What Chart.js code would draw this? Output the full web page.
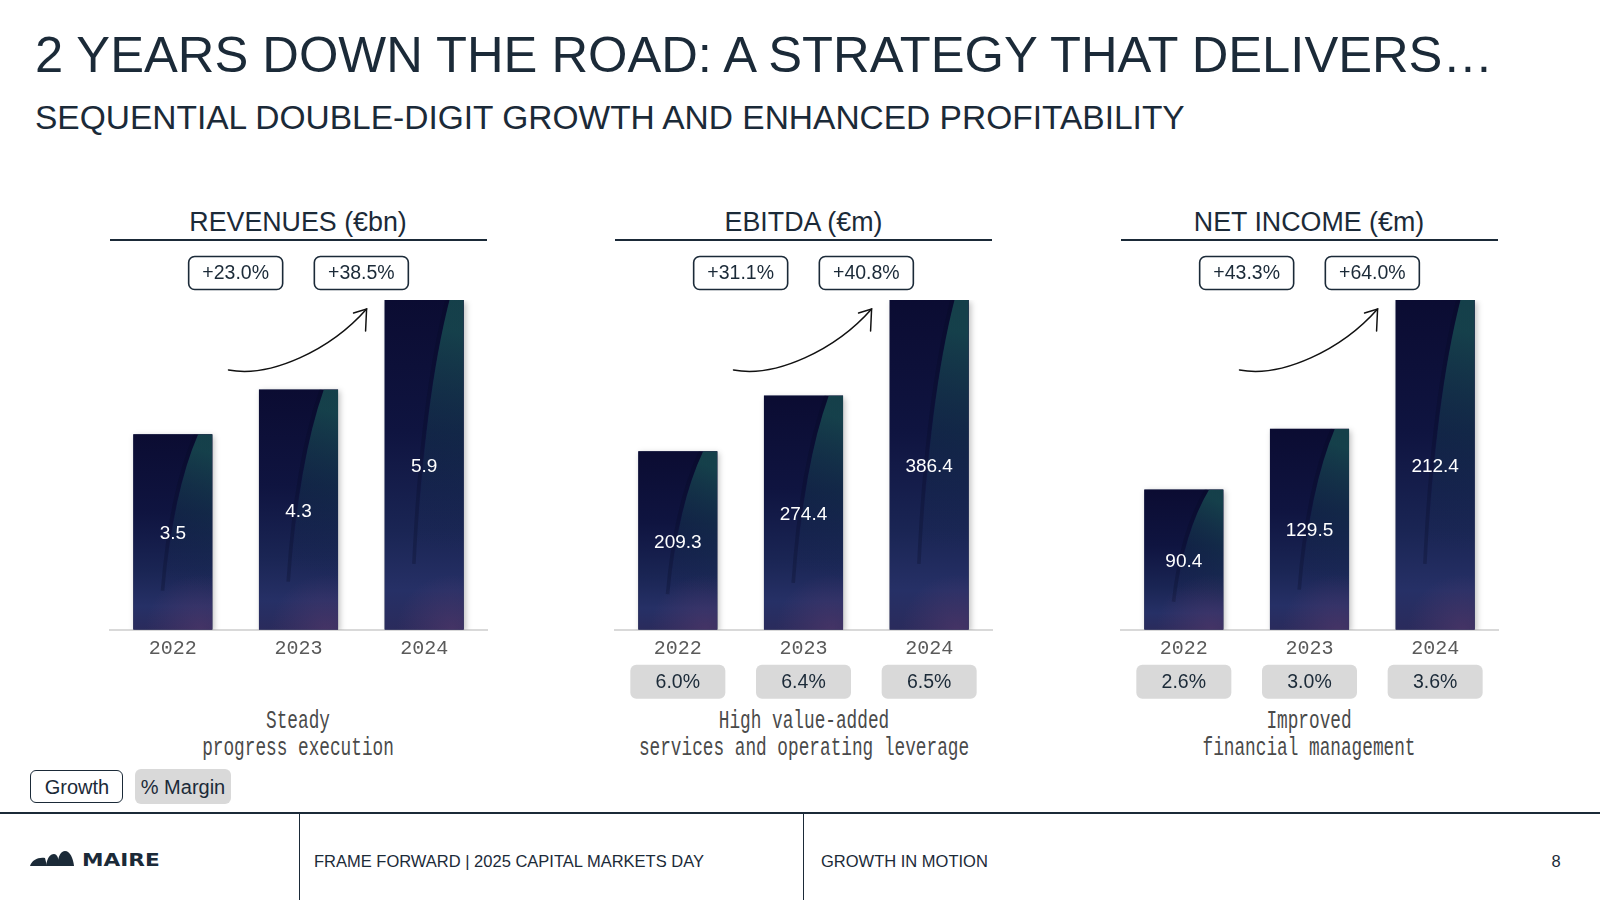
<!DOCTYPE html>
<html><head><meta charset="utf-8">
<script src="https://cdn.jsdelivr.net/npm/chart.js@4.4.1/dist/chart.umd.min.js"></script>
<style>
html,body{margin:0;padding:0;background:#fff;}
body{width:1600px;height:900px;position:relative;overflow:hidden;font-family:"Liberation Sans",Arial,sans-serif;color:#1b2a38;}
.t{position:absolute;white-space:nowrap;}
.ln{position:absolute;background:#1b2a38;}
canvas{position:absolute;}
</style></head><body>
<script>
// ---------- data ----------
const categories = ['2022', '2023', '2024'];
const revenues = [3.5, 4.3, 5.9];
const ebitda = [209.3, 274.4, 386.4];
const netIncome = [90.4, 129.5, 212.4];
const revenueGrowth = ['+23.0%', '+38.5%'];
const ebitdaGrowth = ['+31.1%', '+40.8%'];
const netIncomeGrowth = ['+43.3%', '+64.0%'];
const ebitdaMargin = ['6.0%', '6.4%', '6.5%'];
const netIncomeMargin = ['2.6%', '3.0%', '3.6%'];
const panelTitles = ['REVENUES (€bn)', 'EBITDA (€m)', 'NET INCOME (€m)'];
const captionLine1 = ['Steady', 'High value-added', 'Improved'];
const captionLine2 = ['progress execution', 'services and operating leverage', 'financial management'];
const legendLabels = ['Growth', '% Margin'];

const INK = '#1b2a38';

// ---------- text helper ----------
function addText(txt, x, baseline, o) {
  const size = o.size, fam = o.family || '"Liberation Sans"';
  const k = o.k || 0.8465;
  const d = document.createElement('div');
  d.className = 't';
  d.textContent = txt;
  d.style.fontFamily = fam;
  d.style.fontSize = size + 'px';
  d.style.lineHeight = size + 'px';
  d.style.color = o.color || INK;
  if (o.weight) d.style.fontWeight = o.weight;
  if (o.ls) d.style.letterSpacing = o.ls + 'px';
  d.style.top = (baseline - k * size) + 'px';
  d.style.left = x + 'px';
  const sx = o.scaleX || 1;
  if (o.align === 'center') { d.style.transformOrigin = '0 0'; d.style.transform = 'scaleX(' + sx + ') translateX(-50%)'; }
  else if (o.align === 'right') { d.style.transform = 'translateX(-100%)'; }
  else if (sx !== 1) { d.style.transform = 'scaleX(' + sx + ')'; d.style.transformOrigin = '0 0'; }
  document.body.appendChild(d);
  return d;
}
function addLine(x, y, w, h, color) {
  const d = document.createElement('div');
  d.className = 'ln';
  d.style.left = x + 'px'; d.style.top = y + 'px'; d.style.width = w + 'px'; d.style.height = h + 'px';
  if (color) d.style.background = color;
  document.body.appendChild(d);
}

// ---------- slide header ----------
addText('2 YEARS DOWN THE ROAD: A STRATEGY THAT DELIVERS…', 35, 73, {size: 50.7});
addText('SEQUENTIAL DOUBLE-DIGIT GROWTH AND ENHANCED PROFITABILITY', 35, 129.5, {size: 33.5});

// ---------- bar painting ----------
function paintBar(ctx, b) {
  const p = b.getProps(['x', 'y', 'base', 'width'], true);
  const W = p.width, L = p.x - W / 2, T = Math.min(p.y, p.base), H = Math.abs(p.base - p.y);
  ctx.save();
  ctx.beginPath(); ctx.rect(L, T, W, H); ctx.clip();
  const g = ctx.createLinearGradient(0, T, 0, T + H);
  g.addColorStop(0, '#0b0c32'); g.addColorStop(0.4, '#0f1440'); g.addColorStop(0.7, '#1a2554');
  g.addColorStop(0.88, '#263066'); g.addColorStop(1, '#2a2b5c');
  ctx.fillStyle = g; ctx.fillRect(L, T, W, H);
  ctx.beginPath();
  ctx.moveTo(L + 0.82 * W, T);
  ctx.quadraticCurveTo(L + 0.5 * W, T + 0.3 * H, L + 0.4 * W, T + 0.8 * H);
  ctx.lineTo(L + W, T + 0.8 * H); ctx.lineTo(L + W, T); ctx.closePath();
  const g2 = ctx.createLinearGradient(L + W, T + 0.1 * H, L + 0.45 * W, T + 0.75 * H);
  g2.addColorStop(0, 'rgba(26,90,86,0.66)'); g2.addColorStop(0.45, 'rgba(24,72,84,0.36)'); g2.addColorStop(1, 'rgba(20,50,80,0)');
  ctx.fillStyle = g2; ctx.fill();
  ctx.beginPath();
  ctx.moveTo(L + 0.79 * W, T);
  ctx.quadraticCurveTo(L + 0.47 * W, T + 0.3 * H, L + 0.37 * W, T + 0.8 * H);
  ctx.strokeStyle = 'rgba(8,10,35,0.28)'; ctx.lineWidth = W * 0.045; ctx.stroke();
  const r = ctx.createRadialGradient(L + 0.85 * W, T + H, 0, L + 0.85 * W, T + H, W * 0.7);
  r.addColorStop(0, 'rgba(95,60,110,0.5)'); r.addColorStop(1, 'rgba(95,60,110,0)');
  ctx.fillStyle = r; ctx.fillRect(L, T, W, H);
  ctx.restore();
}
const barArt = {
  id: 'barArt',
  beforeDatasetsDraw(chart) {
    const c = chart.ctx; c.save();
    c.shadowColor = 'rgba(0,0,0,0.25)'; c.shadowBlur = 6; c.shadowOffsetX = 2; c.shadowOffsetY = 2;
  },
  afterDatasetsDraw(chart) {
    chart.ctx.restore();
    chart.getDatasetMeta(0).data.forEach(b => paintBar(chart.ctx, b));
  }
};
function box(ctx, cx, cy, w, h, fill, stroke, text) {
  ctx.save();
  ctx.beginPath(); ctx.roundRect(cx - w / 2, cy - h / 2, w, h, 6);
  ctx.fillStyle = fill; ctx.fill();
  if (stroke) { ctx.lineWidth = 1.6; ctx.strokeStyle = stroke; ctx.stroke(); }
  ctx.fillStyle = INK; ctx.font = '19.5px "Liberation Sans"';
  ctx.textAlign = 'center'; ctx.textBaseline = 'middle';
  ctx.fillText(text, cx, cy + 1);
  ctx.restore();
}
const panelDeco = {
  id: 'panelDeco',
  afterDraw(chart, args, opts) {
    const ctx = chart.ctx, area = chart.chartArea;
    const bars = chart.getDatasetMeta(0).data;
    const vals = chart.data.datasets[0].data;
    // value labels
    ctx.save();
    ctx.fillStyle = '#ffffff'; ctx.font = '19px "Liberation Sans"';
    ctx.textAlign = 'center'; ctx.textBaseline = 'middle';
    bars.forEach((b, i) => ctx.fillText(vals[i].toFixed(1), b.x, (b.y + b.base) / 2 + 2));
    ctx.restore();
    // growth boxes
    (opts.growth || []).forEach((g, i) => {
      const cx = (bars[i].x + bars[i + 1].x) / 2;
      box(ctx, cx, area.top - 27, 94, 33, '#ffffff', INK, g);
    });
    // arrow
    const b1 = bars[1], b2 = bars[2];
    const sx = b1.x - 70, sy = area.top + 70;
    const tx = b2.x - b2.width / 2 - 18, ty = area.top + 9;
    ctx.save();
    ctx.strokeStyle = '#111'; ctx.lineWidth = 1.5; ctx.lineCap = 'round';
    ctx.beginPath(); ctx.moveTo(sx, sy);
    ctx.bezierCurveTo(sx + 42, sy + 8, sx + 102, sy - 20, tx, ty);
    ctx.stroke();
    ctx.beginPath();
    ctx.moveTo(tx - 13, ty + 4); ctx.lineTo(tx, ty); ctx.lineTo(tx - 1, ty + 22);
    ctx.stroke();
    ctx.restore();
    // margin boxes
    (opts.margins || []).forEach((m, i) => {
      box(ctx, bars[i].x, area.bottom + 52, 95, 34, '#d9d9d9', null, m);
    });
  }
};

// ---------- panels ----------
const panelLefts = [109.5, 615, 1120.5];
function makePanel(i, values, growth, margins) {
  const areaLeft = panelLefts[i], areaW = 377, padX = 20, cTop = 240, cH = 480;
  const center = areaLeft + areaW / 2;
  addText(panelTitles[i], center, 232, {size: 26.8, align: 'center'});
  addLine(areaLeft, 238.5, areaW, 2);
  addText(captionLine1[i], center, 728, {size: 25, family: '"Liberation Mono"', k: 0.7665, align: 'center', scaleX: 0.71, color: '#4a4a4a'});
  addText(captionLine2[i], center, 755, {size: 25, family: '"Liberation Mono"', k: 0.7665, align: 'center', scaleX: 0.71, color: '#4a4a4a'});
  const cv = document.createElement('canvas');
  cv.width = areaW + 2 * padX; cv.height = cH;
  cv.style.width = cv.width + 'px'; cv.style.height = cH + 'px';
  cv.style.left = (areaLeft - padX) + 'px'; cv.style.top = cTop + 'px';
  document.body.appendChild(cv);
  new Chart(cv, {
    type: 'bar',
    data: {labels: categories, datasets: [{data: values, backgroundColor: '#141a44', borderWidth: 0, barPercentage: 0.63, categoryPercentage: 1}]},
    options: {
      responsive: false, animation: false, events: [], devicePixelRatio: 1,
      layout: {padding: {left: padX, right: padX, top: 60, bottom: 61.2}},
      plugins: {legend: {display: false}, tooltip: {enabled: false}, panelDeco: {growth: growth, margins: margins}},
      scales: {
        x: {grid: {display: false}, border: {display: true, color: '#d9d9d9', width: 2},
            ticks: {color: '#5a5a5a', font: {family: '"Liberation Mono"', size: 20, lineHeight: 1}, padding: 0.5}},
        y: {display: false, min: 0, max: Math.max(...values)}
      }
    },
    plugins: [barArt, panelDeco]
  });
}
makePanel(0, revenues, revenueGrowth, null);
makePanel(1, ebitda, ebitdaGrowth, ebitdaMargin);
makePanel(2, netIncome, netIncomeGrowth, netIncomeMargin);

// ---------- legend ----------
(function () {
  const g = document.createElement('div');
  g.style.cssText = 'position:absolute;left:30px;top:770px;width:91px;height:31px;border:1.6px solid ' + INK + ';border-radius:6px;background:#fff;';
  document.body.appendChild(g);
  const m = document.createElement('div');
  m.style.cssText = 'position:absolute;left:135px;top:769px;width:96px;height:35px;border-radius:6px;background:#d9d9d9;';
  document.body.appendChild(m);
  addText(legendLabels[0], 77, 794, {size: 20, align: 'center'});
  addText(legendLabels[1], 183, 794, {size: 20, align: 'center'});
})();

// ---------- footer ----------
addLine(0, 812, 1600, 2);
addLine(299, 814, 1, 86);
addLine(803, 814, 1, 86);
addText('FRAME FORWARD | 2025 CAPITAL MARKETS DAY', 314, 867, {size: 16.5});
addText('GROWTH IN MOTION', 821, 867, {size: 16.5});
addText('8', 1556, 867, {size: 16.5, align: 'center'});
(function () {
  const s = document.createElement('div');
  s.style.cssText = 'position:absolute;left:28px;top:846px;width:50px;height:22px;';
  s.innerHTML = '<svg width="50" height="22" viewBox="0 0 50 22">' +
    '<path d="M2 20 C4 14 10 11 17 12 L19 20 Z" fill="' + INK + '"/>' +
    '<path d="M18 20 C19 12 22 8 26 8 C29 8 31 12 31 20 Z" fill="' + INK + '"/>' +
    '<path d="M29 20 C30 10 33 5 37 5 C42 5 45 12 46 20 Z" fill="' + INK + '"/>' +
    '</svg>';
  document.body.appendChild(s);
  addText('MAIRE', 82, 866, {size: 18, family: '"DejaVu Sans"', weight: 'bold', scaleX: 1.2});
})();
</script>
</body></html>
